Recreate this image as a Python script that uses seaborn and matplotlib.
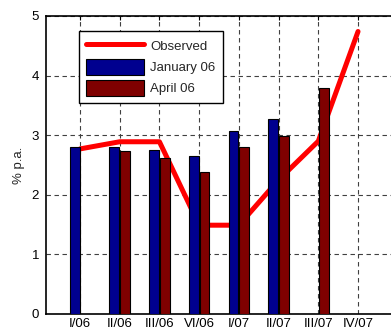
import numpy as np
import pandas as pd
import matplotlib
matplotlib.use("Agg")
import matplotlib.pyplot as plt
from matplotlib.lines import Line2D
from matplotlib.patches import Patch
import seaborn as sns

# Quarters on the horizontal axis
quarters = ["I/06", "II/06", "III/06", "VI/06", "I/07", "II/07", "III/07", "IV/07"]

# Observed inflation (% p.a.)
observed = [2.77, 2.89, 2.89, 1.49, 1.49, 2.25, 2.90, 4.74]

# Forecast vintages (NaN = no forecast for that quarter)
january_06 = [2.80, 2.80, 2.75, 2.65, 3.07, 3.27, np.nan, np.nan]
april_06 = [np.nan, 2.73, 2.61, 2.39, 2.80, 2.99, 3.80, np.nan]

series_names = ["January 06", "April 06"]
bar_colors = ["#00008F", "#7F0000"]
line_color = "#FF0000"

sns.set_style("white")
plt.rcParams["font.family"] = ["Liberation Sans", "DejaVu Sans"]

bars = pd.DataFrame({
    "quarter": quarters * 2,
    "value": january_06 + april_06,
    "series": [series_names[0]] * len(quarters) + [series_names[1]] * len(quarters),
})
line = pd.DataFrame({"pos": np.arange(len(quarters)), "value": observed})

fig = plt.figure(figsize=(3.91, 3.31), dpi=100)
ax = fig.add_axes([46 / 391, 17 / 331, 345 / 391, 298 / 331])

sns.lineplot(data=line, x="pos", y="value", color=line_color, linewidth=3.6,
             ax=ax, zorder=2, legend=False)
sns.barplot(data=bars, x="quarter", y="value", hue="series", order=quarters,
            hue_order=series_names, palette=bar_colors, saturation=1,
            width=0.54, gap=0.08, edgecolor="black", linewidth=0.8, ax=ax,
            zorder=3, legend=False, errorbar=None)

ax.set_xlim(-0.856, 7.83)
ax.set_ylim(0, 5)
ax.set_yticks([0, 1, 2, 3, 4, 5])
ax.set_xticks(np.arange(len(quarters)))
ax.set_xticklabels(quarters)
ax.set_xlabel("")
ax.set_ylabel("% p.a.", fontsize=9.5, labelpad=5)

ax.grid(True, axis="both", color="0.25", linestyle=(0, (4, 3.2)), linewidth=0.8)
ax.set_axisbelow(True)
for side in ["left", "bottom", "top"]:
    ax.spines[side].set_color("black")
    ax.spines[side].set_linewidth(1.2)
ax.spines["right"].set_visible(False)
ax.tick_params(axis="both", direction="in", length=3, labelsize=9.5, colors="black",
               top=True, pad=3)
ax.tick_params(axis="y", pad=5)

handles = [
    Line2D([0], [0], color=line_color, linewidth=3.6),
    Patch(facecolor=bar_colors[0], edgecolor="black", linewidth=0.8),
    Patch(facecolor=bar_colors[1], edgecolor="black", linewidth=0.8),
]
leg = ax.legend(handles, ["Observed"] + series_names, loc="upper left",
                bbox_to_anchor=(0.0957, 0.95), borderaxespad=0, fontsize=9.5,
                frameon=True, fancybox=False, shadow=False, framealpha=1,
                handlelength=4.4, handleheight=1.45, handletextpad=0.45,
                labelspacing=0.4, borderpad=0.55)
leg.get_frame().set_edgecolor("black")
leg.get_frame().set_linewidth(1.0)

fig.savefig("out.png", dpi=100)
